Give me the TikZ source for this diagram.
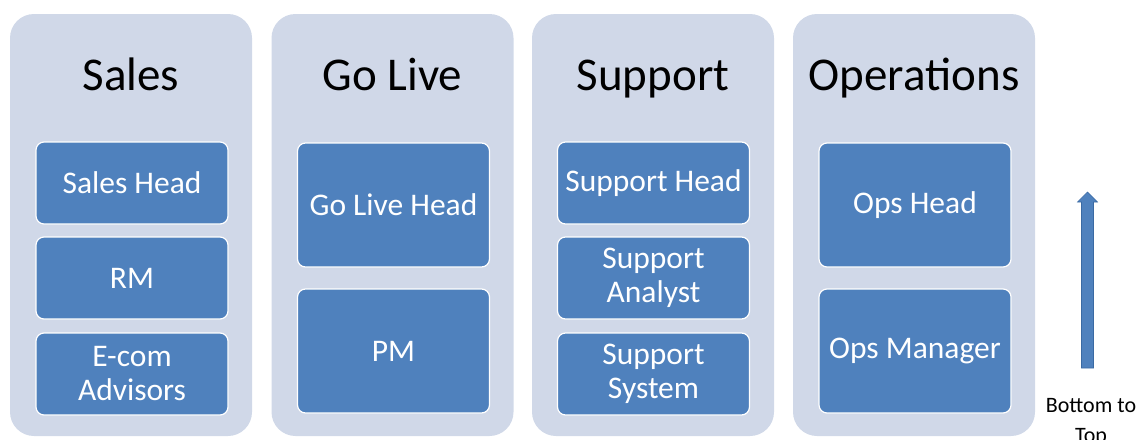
\documentclass[tikz,border=0pt]{standalone}
\usepackage{fontspec}
\setmainfont{Carlito}
\definecolor{panelbg}{HTML}{D0D8E8}
\definecolor{rolebg}{HTML}{4F81BD}
\definecolor{roleedge}{HTML}{3A6AA3}
\begin{document}
\begin{tikzpicture}[x=1pt,y=-1pt,
  panel/.style={fill=panelbg, rounded corners=24pt, minimum width=242pt, minimum height=422pt, inner sep=0pt},
  title/.style={font=\fontsize{47}{56}\selectfont, text=black, anchor=base, inner sep=0pt},
  role/.style={draw=white, line width=1.2pt, fill=rolebg, rounded corners=8pt, text=white,
    font=\fontsize{31.5}{34}\selectfont, align=center, inner sep=0pt, minimum width=192pt},
  small/.style={role, minimum height=82pt},
  tall/.style={role, minimum height=124pt},
  note/.style={font=\fontsize{22}{30}\selectfont, align=center, inner sep=0pt, anchor=north}]
\useasboundingbox (0,0) rectangle (1142,439);

% columns
\node[panel] (pSales) at (131,225) {};
\node[panel] (pGoLive) at (392.5,225) {};
\node[panel] (pSupport) at (653,225) {};
\node[panel] (pOps) at (914,225) {};

% column titles
\node[title] (tSales) at (131,90) {Sales};
\node[title] (tGoLive) at (392.5,90) {Go Live};
\node[title] (tSupport) at (653,90) {Support};
\node[title] (tOps) at (914,90) {Operations};

% Sales roles
\node[small] (salesHead) at (132,183) {Sales Head};
\node[small] (rm) at (132,278) {RM};
\node[small] (ecom) at (132,374) {E-com\\Advisors};

% Go Live roles
\node[tall] (goHead) at (393.5,205) {Go Live Head};
\node[tall] (pm) at (393.5,351) {PM};

% Support roles
\node[small] (supHead) at (653.5,183) {Support Head};
\node[small] (supAnalyst) at (653.5,278) {Support\\Analyst};
\node[small] (supSystem) at (653.5,374) {Support\\System};

% Operations roles
\node[tall] (opsHead) at (915,205) {Ops Head};
\node[tall] (opsMgr) at (915,351) {Ops Manager};

% direction arrow
\fill[rolebg, draw=roleedge, line width=0.6pt]
  (1081.5,368) -- (1081.5,202) -- (1077.5,202) -- (1087.5,192)
  -- (1097.5,202) -- (1093.5,202) -- (1093.5,368) -- cycle;
\node[note] (dir) at (1091,398) {Bottom to\\Top};
\end{tikzpicture}
\end{document}
